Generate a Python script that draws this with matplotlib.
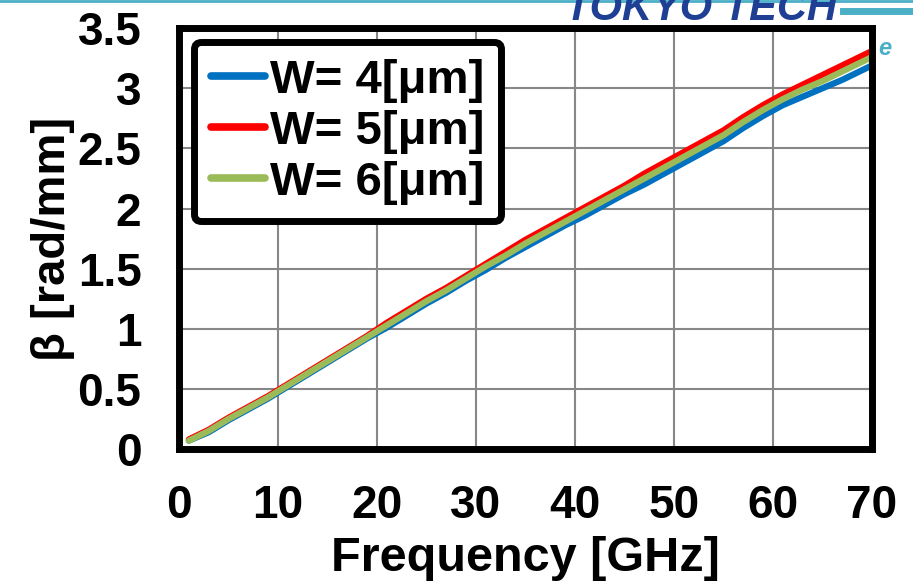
import matplotlib
matplotlib.use("Agg")
import matplotlib.pyplot as plt

plt.rcParams['font.family'] = ['Liberation Sans', 'DejaVu Sans']
plt.rcParams['font.weight'] = 'bold'

# frequency points [GHz]
freq = [1, 3, 5, 7, 9, 11, 13, 15, 17, 19, 21, 23, 25, 27, 29, 31, 33, 35,
        37, 39, 41, 43, 45, 47, 49, 51, 53, 55, 57, 59, 61, 63, 65, 67, 69, 70]

# beta [rad/mm]
beta_w4 = [0.07, 0.14, 0.24, 0.33, 0.42, 0.52, 0.62, 0.72, 0.82, 0.92, 1.01, 1.11,
           1.21, 1.30, 1.40, 1.49, 1.59, 1.68, 1.77, 1.86, 1.94, 2.03, 2.12, 2.20,
           2.29, 2.38, 2.47, 2.56, 2.67, 2.77, 2.86, 2.93, 3.00, 3.07, 3.15, 3.19]
beta_w5 = [0.08, 0.16, 0.26, 0.35, 0.44, 0.54, 0.64, 0.74, 0.84, 0.94, 1.05, 1.15,
           1.25, 1.34, 1.44, 1.54, 1.64, 1.74, 1.83, 1.92, 2.01, 2.10, 2.19, 2.29,
           2.38, 2.47, 2.56, 2.65, 2.76, 2.86, 2.95, 3.03, 3.11, 3.19, 3.27, 3.31]
beta_w6 = [0.07, 0.15, 0.25, 0.34, 0.43, 0.53, 0.63, 0.73, 0.83, 0.93, 1.03, 1.13,
           1.23, 1.32, 1.42, 1.52, 1.61, 1.71, 1.80, 1.89, 1.98, 2.07, 2.16, 2.25,
           2.34, 2.43, 2.52, 2.61, 2.72, 2.82, 2.91, 2.99, 3.06, 3.14, 3.22, 3.26]

labels = ["W= 4[μm]", "W= 5[μm]", "W= 6[μm]"]
colors = ["#0070C0", "#FF0000", "#9BBB59"]

xticks = [0, 10, 20, 30, 40, 50, 60, 70]
yticks = [0, 0.5, 1, 1.5, 2, 2.5, 3, 3.5]
ytick_labels = ["0", "0.5", "1", "1.5", "2", "2.5", "3", "3.5"]

fig = plt.figure(figsize=(9.13, 5.87), dpi=100)
ax = fig.add_axes([0.196, 0.235, 0.759, 0.717])

for b, lab, c in zip([beta_w4, beta_w5, beta_w6], labels, colors):
    ax.plot(freq, b, color=c, lw=4.5, label=lab, solid_capstyle='round')

ax.set_xlim(0, 70)
ax.set_ylim(0, 3.5)
ax.set_xticks(xticks)
ax.set_yticks(yticks)
ax.set_yticklabels(ytick_labels)
ax.grid(True, color="#878787", lw=1.5)
ax.set_axisbelow(True)
ax.tick_params(length=0, labelsize=33)
ax.tick_params(axis='y', pad=27)
ax.tick_params(axis='x', pad=25)
for s in ax.spines.values():
    s.set_linewidth(5)
    s.set_color("black")

ax.set_xlabel("Frequency [GHz]", fontsize=35, fontweight='bold', labelpad=6)
ax.set_ylabel("β [rad/mm]", fontsize=34, fontweight='bold', labelpad=2)

leg = ax.legend(loc='upper left', bbox_to_anchor=(0.022, 0.967), fontsize=34,
                handlelength=1.15, handletextpad=0.1, labelspacing=0.15,
                borderpad=0.35, borderaxespad=0, fancybox=True, framealpha=1)
frame = leg.get_frame()
frame.set_edgecolor("black")
frame.set_linewidth(5)
frame.set_boxstyle("round,pad=0,rounding_size=0.15")
for h in leg.get_lines():
    h.set_linewidth(5.5)

# slide background decorations
fig.add_artist(plt.Line2D([0, 1], [0.999, 0.999], color="#4BAFC6", lw=2,
                          transform=fig.transFigure))
fig.add_artist(plt.Line2D([843 / 913, 1], [1 - 11 / 587, 1 - 11 / 587],
                          color="#4BAFC6", lw=5, transform=fig.transFigure))
fig.text(565 / 913, 1 - 20 / 587, "TOKYO TECH", color="#1F3F94", fontsize=30,
         fontweight='bold', style='italic', va='baseline', ha='left')
fig.text(878 / 913, 1 - 55 / 587, "e", color="#4BAFC6", fontsize=17,
         fontweight='bold', style='italic', va='baseline', ha='left')

fig.savefig("out.png", dpi=100)
